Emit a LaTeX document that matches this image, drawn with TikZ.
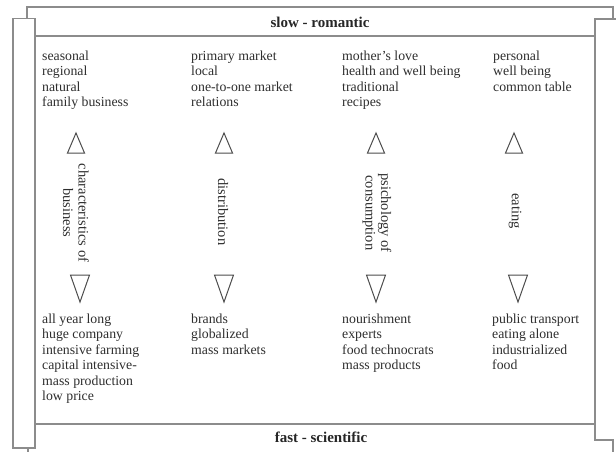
\documentclass[tikz,border=0pt]{standalone}
\usepackage{fontspec}
\setmainfont{Liberation Serif}
\begin{document}
\begin{tikzpicture}[x=1pt,y=-1pt,
  frame/.style={draw=black!45,line width=1.1pt},
  tri/.style={draw=black!70,line width=1pt,line join=miter},
  txt/.style={anchor=north west,inner sep=0pt,align=left,text=black!82,
    font=\fontsize{13.8}{15.5}\selectfont},
  head/.style={inner sep=0pt,text=black!85,font=\fontsize{15}{17}\selectfont\bfseries},
  lab/.style={inner sep=0pt,align=center,rotate=-90,text=black!82,
    font=\fontsize{14.5}{15.5}\selectfont}]
\path[use as bounding box] (0,0) rectangle (616,451);
\clip (0,0) rectangle (616,451);
% scroll frame
\draw[frame] (27,18.5) -- (27,7) -- (613,7) -- (613,19);
\draw[frame] (13,18.5) rectangle (35,448);
\draw[frame] (625,19) -- (595,19) -- (595,440) -- (613,440) -- (613,455);
\draw[frame] (28,448) -- (28,455);
\draw[frame] (35,36) -- (595,36);
\draw[frame] (35,424) -- (595,424);
% headings
\node[head] (slow) at (320,22) {slow - romantic};
\node[head] (fast) at (321,437) {fast - scientific};
% top texts
\node[txt] (t1) at (42,49) {\strut seasonal\\regional\\natural\\family business};
\node[txt] (t2) at (191,49) {\strut primary market\\local\\one-to-one market\\relations};
\node[txt] (t3) at (342,49) {\strut mother's love\\health and well being\\traditional\\recipes};
\node[txt] (t4) at (493,49) {\strut personal\\well being\\common table};
% bottom texts
\node[txt] (b1) at (42,312) {\strut all year long\\huge company\\intensive farming\\capital intensive-\\mass production\\low price};
\node[txt] (b2) at (191,312) {\strut brands\\globalized\\mass markets};
\node[txt] (b3) at (342,312) {\strut nourishment\\experts\\food technocrats\\mass products};
\node[txt] (b4) at (492,312) {\strut public transport\\eating alone\\industrialized\\food};
% rotated labels
\node[lab] (l1) at (76,213) {characteristics of\\business};
\node[lab] (l2) at (223,212) {distribution};
\node[lab] (l3) at (377,213) {psichology of\\consumption};
\node[lab] (l4) at (515,211) {eating};
% up triangles
\foreach \cx/\n in {76/1,224/2,376/3,514/4}{
  \draw[tri] (\cx,133) -- (\cx+8.5,153) -- (\cx-8.5,153) -- cycle;
}
% down triangles
\foreach \cx/\n in {80/1,224/2,376/3,518/4}{
  \draw[tri] (\cx-9.5,275) -- (\cx+9.5,275) -- (\cx,302) -- cycle;
}
\end{tikzpicture}
\end{document}
